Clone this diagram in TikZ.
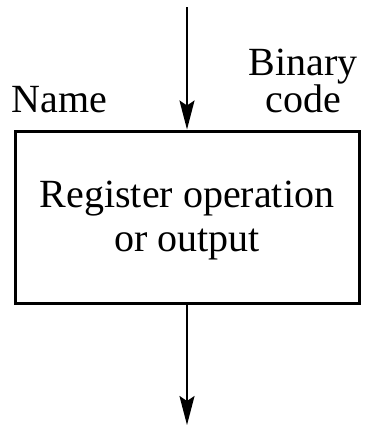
\documentclass[tikz,border=0pt]{standalone}
\usepackage{fontspec}
\setmainfont{Liberation Serif}
\usetikzlibrary{arrows.meta}
\begin{document}
\begin{tikzpicture}[x=1pt,y=-1pt,
  statebox/.style={draw,line width=3pt,minimum width=344pt,minimum height=172pt,inner sep=0pt},
  lbl/.style={font=\fontsize{40}{44}\selectfont,inner sep=0pt},
  flow/.style={line width=2pt,-{Stealth[length=29pt,width=15pt,inset=5pt]}}]
  \useasboundingbox (0,0) rectangle (388,426);
  % the register block and its contents
  \node[statebox] (box) at (187,217) {};
  \node[lbl,align=center] (op) at (187,221) {Register operation\\or output};
  % name and binary code labels above the block
  \node[lbl,anchor=base] (name) at (59.5,112) {Name};
  \node[lbl,anchor=base] (binary) at (303,75) {Binary};
  \node[lbl,anchor=base] (code) at (303,112) {code};
  % entry and exit paths
  \coordinate (in) at (187,7);
  \coordinate (out) at (187,425);
  \draw[flow] (in) -- (box.north);
  \draw[flow] (box.south) -- (out);
\end{tikzpicture}
\end{document}
